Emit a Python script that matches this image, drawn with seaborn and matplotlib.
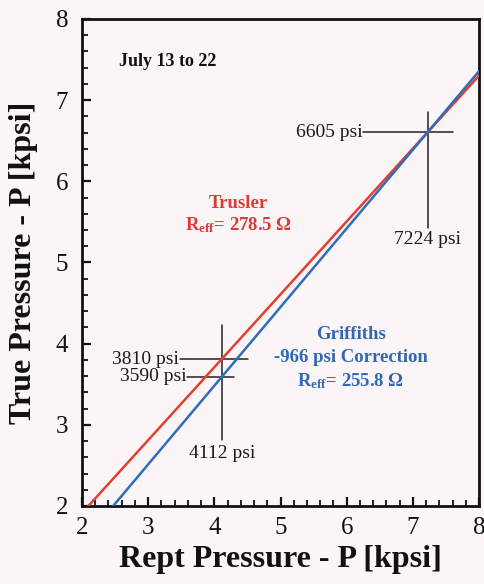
import numpy as np
import pandas as pd
import matplotlib
matplotlib.use("Agg")
import matplotlib.pyplot as plt
from matplotlib.ticker import MultipleLocator
import seaborn as sns

# Calibration lines, reported vs. true pressure (kpsi)
trusler_rept = [2.097, 8.0]
trusler_true = [2.0, 7.302]
griffiths_rept = [2.471, 8.0]
griffiths_true = [2.0, 7.357]

# Reference crossings (psi)
low_rept = 4112
low_true_trusler = 3810
low_true_griffiths = 3590
high_rept = 7224
high_true = 6605

x_ticks = [2, 3, 4, 5, 6, 7, 8]
y_ticks = [2, 3, 4, 5, 6, 7, 8]

RED = "#e2402e"
BLUE = "#2f6cba"
RED_TXT = "#dc3a36"
BLUE_TXT = "#2e6ab4"
BG = "#fbf5f7"

sns.set_theme(style="white")
plt.rcParams["font.family"] = ["Liberation Serif", "DejaVu Serif"]
plt.rcParams["mathtext.fontset"] = "custom"
plt.rcParams["mathtext.rm"] = "Liberation Serif"
plt.rcParams["mathtext.bf"] = "Liberation Serif:bold"
plt.rcParams["mathtext.it"] = "Liberation Serif:italic"

fig = plt.figure(figsize=(4.84, 5.84), dpi=100, facecolor=BG)
ax = fig.add_axes([0.1694, 0.1336, 0.8203, 0.8339], facecolor=BG)

df = pd.DataFrame({
    "rept": trusler_rept + griffiths_rept,
    "true": trusler_true + griffiths_true,
    "model": ["Trusler"] * 2 + ["Griffiths"] * 2,
})
sns.lineplot(data=df, x="rept", y="true", hue="model",
             palette={"Trusler": RED, "Griffiths": BLUE},
             linewidth=1.8, legend=False, ax=ax, zorder=3)

# Crosshairs at the reference points
k = 1000.0
cross_kw = dict(color="#222222", linewidth=1.1, zorder=2)
ax.plot([low_rept / k] * 2, [2.81, 4.23], **cross_kw)
ax.plot([3.48, 4.51], [low_true_trusler / k] * 2, **cross_kw)
ax.plot([3.59, 4.30], [low_true_griffiths / k] * 2, **cross_kw)
ax.plot([high_rept / k] * 2, [5.42, 6.85], **cross_kw)
ax.plot([6.25, 7.60], [high_true / k] * 2, **cross_kw)

lab_kw = dict(fontsize=14, color="#1a1a1a")
ax.text(3.47, low_true_trusler / k, f"{low_true_trusler} psi", ha="right", va="center", **lab_kw)
ax.text(3.58, low_true_griffiths / k, f"{low_true_griffiths} psi", ha="right", va="center", **lab_kw)
ax.text(low_rept / k, 2.75, f"{low_rept} psi", ha="center", va="top", **lab_kw)
ax.text(6.24, high_true / k, f"{high_true} psi", ha="right", va="center", **lab_kw)
ax.text(high_rept / k, 5.39, f"{high_rept} psi", ha="center", va="top", **lab_kw)

ax.text(2.56, 7.47, "July 13 to 22", ha="left", va="center",
        fontsize=13, fontweight="bold", color="#111111")

ax.text(4.37, 5.73, "Trusler", ha="center", va="center",
        fontsize=13.5, fontweight="bold", color=RED_TXT)
ax.text(4.37, 5.46, r"R$_{\mathbf{eff}}$= 278.5 Ω", ha="center", va="center",
        fontsize=13.5, fontweight="bold", color=RED_TXT)

ax.text(6.07, 4.11, "Griffiths", ha="center", va="center",
        fontsize=13.5, fontweight="bold", color=BLUE_TXT)
ax.text(6.07, 3.83, "-966 psi Correction", ha="center", va="center",
        fontsize=13.5, fontweight="bold", color=BLUE_TXT)
ax.text(6.06, 3.54, r"R$_{\mathbf{eff}}$= 255.8 Ω", ha="center", va="center",
        fontsize=13.5, fontweight="bold", color=BLUE_TXT)

ax.set_xlim(2, 8)
ax.set_ylim(2, 8)
ax.set_xticks(x_ticks)
ax.set_yticks(y_ticks)
ax.set_xticklabels([str(t) for t in x_ticks])
ax.set_yticklabels([str(t) for t in y_ticks])
ax.xaxis.set_minor_locator(MultipleLocator(0.2))
ax.yaxis.set_minor_locator(MultipleLocator(0.2))
ax.tick_params(which="major", direction="in", length=6.5, width=1.6,
               labelsize=18, colors="#111111", bottom=True, left=True,
               top=False, right=False)
ax.tick_params(axis="x", which="major", pad=8)
ax.tick_params(axis="y", which="major", pad=10)
ax.tick_params(which="minor", direction="in", length=4, width=1.3,
               bottom=True, left=True, top=False, right=False, colors="#111111")

for s in ax.spines.values():
    s.set_visible(True)
    s.set_color("#111111")
    s.set_linewidth(2.0)

ax.set_xlabel("Rept Pressure - P [kpsi]", fontsize=23, fontweight="bold",
              color="#111111", labelpad=4)
ax.set_ylabel("True Pressure - P [kpsi]", fontsize=23, fontweight="bold",
              color="#111111", labelpad=13)

fig.savefig("out.png", dpi=100, facecolor=BG)
